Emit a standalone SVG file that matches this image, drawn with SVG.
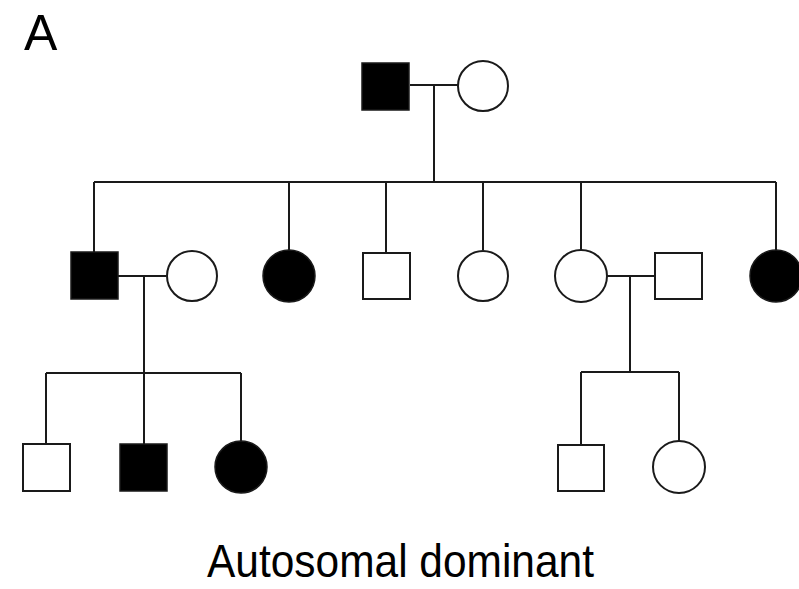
<svg xmlns="http://www.w3.org/2000/svg" width="799" height="589" viewBox="0 0 799 589">
  <style>
    .ln { fill: none; stroke: #1a1a1a; stroke-width: 2; }
    .open { fill: #ffffff; stroke: #1a1a1a; stroke-width: 2; }
    .aff { fill: #000000; stroke: #1a1a1a; stroke-width: 1.5; }
    .lbl { font-family: "Liberation Sans", "DejaVu Sans", sans-serif; fill: #000; }
  </style>
  <rect width="799" height="589" fill="#ffffff"/>

  <!-- connectors: marriage lines, descent lines, sibships -->
  <g id="connectors" class="ln">
    <!-- generation I -->
    <path d="M410 85 H458"/>
    <path d="M434 85 V182"/>
    <path d="M94 182 H776"/>
    <path d="M94 182 V252"/>
    <path d="M289 182 V250"/>
    <path d="M386 182 V252"/>
    <path d="M483 182 V250"/>
    <path d="M581 182 V250"/>
    <path d="M776 182 V250"/>
    <!-- left couple, generation II -->
    <path d="M118 276 H166"/>
    <path d="M144 276 V373"/>
    <path d="M46 373 H241"/>
    <path d="M46 373 V444"/>
    <path d="M144 373 V444"/>
    <path d="M241 373 V441"/>
    <!-- right couple, generation II -->
    <path d="M607 276 H655"/>
    <path d="M630 276 V372"/>
    <path d="M581 372 H679"/>
    <path d="M581 372 V444"/>
    <path d="M679 372 V441"/>
  </g>

  <!-- generation I -->
  <g id="g1-father"><rect class="aff" x="362" y="63" width="47" height="47"/></g>
  <g id="g1-mother"><circle class="open" cx="483" cy="86" r="25"/></g>

  <!-- generation II -->
  <g id="g2-son1"><rect class="aff" x="71" y="252" width="47" height="47"/></g>
  <g id="g2-son1-wife"><circle class="open" cx="192" cy="276" r="25"/></g>
  <g id="g2-daughter1"><circle class="aff" cx="289" cy="276" r="26"/></g>
  <g id="g2-son2"><rect class="open" x="363" y="253" width="47" height="46"/></g>
  <g id="g2-daughter2"><circle class="open" cx="483" cy="276" r="25"/></g>
  <g id="g2-daughter3"><circle class="open" cx="581" cy="276" r="26"/></g>
  <g id="g2-daughter3-husband"><rect class="open" x="655" y="253" width="47" height="46"/></g>
  <g id="g2-daughter4"><circle class="aff" cx="776" cy="276" r="26"/></g>

  <!-- generation III -->
  <g id="g3-left-son1"><rect class="open" x="23" y="444" width="47" height="47"/></g>
  <g id="g3-left-son2"><rect class="aff" x="120" y="444" width="47" height="47"/></g>
  <g id="g3-left-daughter"><circle class="aff" cx="241" cy="467" r="26"/></g>
  <g id="g3-right-son"><rect class="open" x="558" y="445" width="46" height="46"/></g>
  <g id="g3-right-daughter"><circle class="open" cx="679" cy="467" r="26"/></g>

  <!-- labels -->
  <text class="lbl" x="24" y="50" font-size="50">A</text>
  <text class="lbl" x="207" y="577" font-size="46" textLength="387" lengthAdjust="spacingAndGlyphs">Autosomal dominant</text>
</svg>
